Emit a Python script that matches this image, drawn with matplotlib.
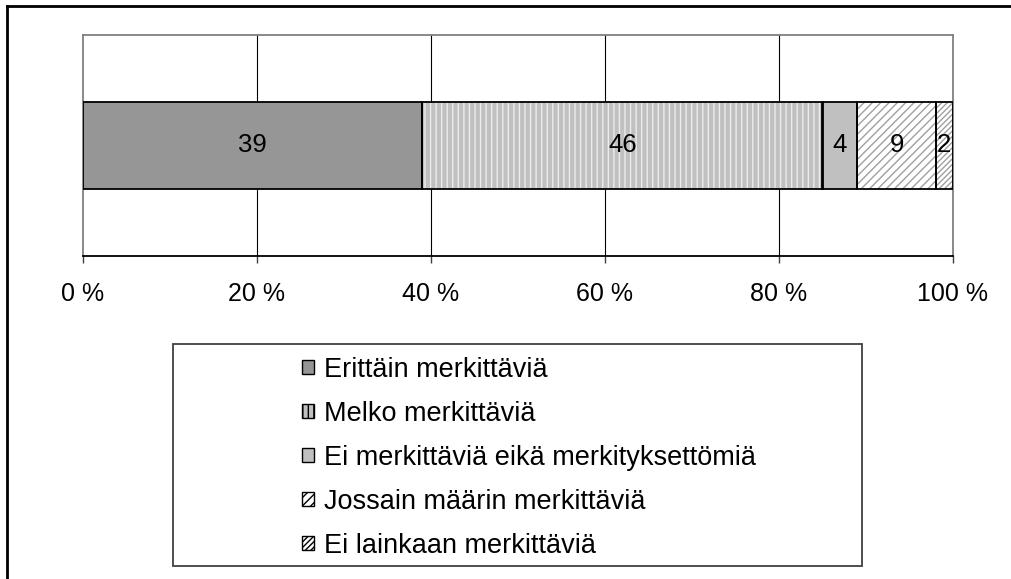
import matplotlib
matplotlib.use("Agg")
import matplotlib.pyplot as plt
from matplotlib.patches import Rectangle
from matplotlib.lines import Line2D

plt.rcParams['font.family'] = ['Liberation Sans', 'DejaVu Sans']

categories = ["Erittäin merkittäviä", "Melko merkittäviä",
              "Ei merkittäviä eikä merkityksettömiä",
              "Jossain määrin merkittäviä", "Ei lainkaan merkittäviä"]
values = [39, 46, 4, 9, 2]
tick_values = [0, 20, 40, 60, 80, 100]
tick_labels = ["0 %", "20 %", "40 %", "60 %", "80 %", "100 %"]

faces = ['#969696', '#c0c0c0', '#c0c0c0', 'white', 'white']
hatches = [None, '|||', None, '////', '//////']
hatch_cols = ['#969696', '#ececec', '#c0c0c0', '#a0a0a0', '#a0a0a0']

plt.rcParams['hatch.linewidth'] = 1.0

fig = plt.figure(figsize=(10.11, 5.79), dpi=100)
ax = fig.add_axes([83/1011, 1-256/579, (953-83)/1011, (256-35)/579])
ax.set_xlim(0, 100)
ax.set_ylim(0, 1)

for x in tick_values[1:-1]:
    ax.axvline(x, color='black', lw=0.8, zorder=0)

left = 0
handles = []
for cat, v, fc, h, hc in zip(categories, values, faces, hatches, hatch_cols):
    ax.barh(0.5, v, left=left, height=0.394, color=fc, hatch=h,
            edgecolor=hc, linewidth=0, zorder=2)
    ax.barh(0.5, v, left=left, height=0.394, fill=False,
            edgecolor='black', linewidth=1.3, zorder=3)
    ax.text(left + v/2, 0.5, str(v), ha='center', va='center',
            fontsize=18.5, zorder=4)
    handles.append(Rectangle((0, 0), 1, 1, facecolor=fc, hatch=h,
                             edgecolor='black', linewidth=1.0))
    left += v

for s in ['left', 'top', 'right']:
    ax.spines[s].set_color('#808080')
    ax.spines[s].set_linewidth(1.3)
ax.spines['bottom'].set_color('black')
ax.spines['bottom'].set_linewidth(1.3)
ax.set_yticks([])
ax.set_xticks(tick_values)
ax.set_xticklabels(tick_labels, fontsize=18)
ax.tick_params(axis='x', length=5, width=1, color='#404040', pad=14)

# legend frame
fig.patches.append(Rectangle((173/1011, 1-566/579), 689/1011, 222/579,
                             transform=fig.transFigure, fill=False,
                             edgecolor='#404040', linewidth=1.3))
leg = fig.legend(handles, categories, loc='upper left',
                 bbox_to_anchor=(302/1011, 1-357/579), frameon=False,
                 fontsize=19.5, handlelength=0.43, handleheight=0.43,
                 handletextpad=0.4, labelspacing=0.665, borderpad=0,
                 borderaxespad=0)

# outer frame (left and top visible)
fig.add_artist(Line2D([7/1011, 7/1011], [0, 1-6/579], transform=fig.transFigure,
                      color='black', lw=2))
fig.add_artist(Line2D([7/1011, 1], [1-6/579, 1-6/579], transform=fig.transFigure,
                      color='black', lw=2))

fig.savefig('out.png', dpi=100)
